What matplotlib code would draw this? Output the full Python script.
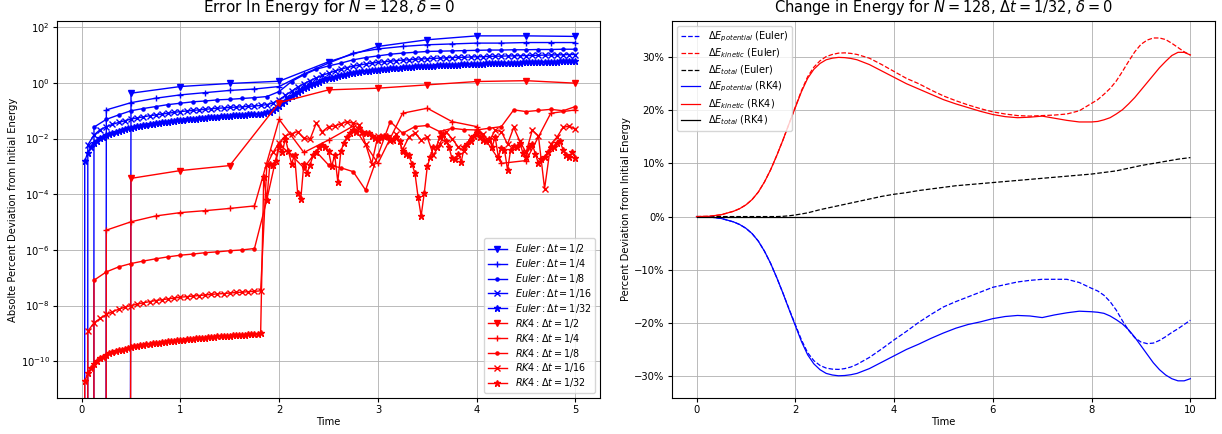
import matplotlib.pyplot as plt
import numpy as np
from matplotlib.ticker import PercentFormatter

# ---- left panel: log10 of absolute percent error, sampled at t = dt, 2dt, ... 5
# (the value at t=0 is exactly 0, which is what draws the vertical drop lines on a log axis)
euler_exp_2 = [-0.37, -0.13, -0.02, 0.06, 0.76, 1.31, 1.55, 1.69, 1.69, 1.67]
euler_exp_4 = [-0.97, -0.71, -0.55, -0.43, -0.35, -0.27, -0.22, -0.13, 0.32, 0.71,
               1.07, 1.22, 1.31, 1.37, 1.40, 1.43, 1.43, 1.45, 1.45, 1.45]
euler_exp_8 = [-1.59, -1.31, -1.15, -1.00, -0.92, -0.85, -0.78, -0.73, -0.68, -0.65,
               -0.61, -0.59, -0.56, -0.53, -0.49, -0.31, 0.05, 0.29, 0.49, 0.61,
               0.71, 0.83, 0.91, 0.97, 1.03, 1.07, 1.10, 1.13, 1.14, 1.15,
               1.16, 1.17, 1.18, 1.18, 1.19, 1.19, 1.20, 1.20, 1.21, 1.21]
euler_exp_16 = [-2.23, -1.87, -1.68, -1.58, -1.49, -1.42, -1.36, -1.30, -1.26, -1.22,
                -1.18, -1.15, -1.12, -1.09, -1.06, -1.03, -1.01, -0.99, -0.97, -0.95,
                -0.93, -0.91, -0.90, -0.88, -0.87, -0.86, -0.84, -0.83, -0.81, -0.78,
                -0.72, -0.60, -0.45, -0.30, -0.15, -0.03, 0.08, 0.18, 0.27, 0.35,
                0.42, 0.49, 0.55, 0.60, 0.64, 0.68, 0.71, 0.74, 0.76, 0.78,
                0.80, 0.82, 0.83, 0.85, 0.86, 0.87, 0.88, 0.89, 0.90, 0.91,
                0.92, 0.92, 0.93, 0.94, 0.94, 0.95, 0.96, 0.96, 0.97, 0.97,
                0.98, 0.98, 0.99, 0.99, 1.00, 1.00, 1.01, 1.01, 1.02, 1.02]
euler_exp_32 = [-2.80, -2.52, -2.30, -2.17, -2.07, -1.99, -1.93, -1.88, -1.83, -1.79,
                -1.76, -1.72, -1.69, -1.66, -1.63, -1.61, -1.58, -1.56, -1.54, -1.52,
                -1.50, -1.48, -1.46, -1.45, -1.43, -1.42, -1.40, -1.39, -1.37, -1.36,
                -1.35, -1.33, -1.32, -1.31, -1.30, -1.29, -1.28, -1.27, -1.26, -1.25,
                -1.24, -1.23, -1.22, -1.21, -1.20, -1.20, -1.19, -1.18, -1.17, -1.16,
                -1.16, -1.15, -1.14, -1.13, -1.13, -1.12, -1.11, -1.10, -1.08, -1.06,
                -1.03, -0.98, -0.91, -0.83, -0.74, -0.65, -0.56, -0.47, -0.39, -0.32,
                -0.25, -0.19, -0.13, -0.08, -0.03, 0.01, 0.05, 0.09, 0.13, 0.16,
                0.19, 0.22, 0.25, 0.27, 0.30, 0.32, 0.34, 0.36, 0.38, 0.40,
                0.41, 0.43, 0.44, 0.46, 0.47, 0.48, 0.49, 0.50, 0.51, 0.52,
                0.53, 0.54, 0.55, 0.56, 0.56, 0.57, 0.58, 0.59, 0.59, 0.60,
                0.61, 0.61, 0.62, 0.62, 0.63, 0.63, 0.64, 0.64, 0.65, 0.65,
                0.66, 0.66, 0.67, 0.67, 0.67, 0.68, 0.68, 0.69, 0.69, 0.69,
                0.70, 0.70, 0.70, 0.71, 0.71, 0.71, 0.72, 0.72, 0.72, 0.73,
                0.73, 0.73, 0.74, 0.74, 0.74, 0.74, 0.75, 0.75, 0.75, 0.75,
                0.76, 0.76, 0.76, 0.76, 0.77, 0.77, 0.77, 0.77, 0.78, 0.78]

rk4_exp_2 = [-3.43, -3.15, -2.97, -0.71, -0.25, -0.19, -0.07, 0.05, 0.08, -0.01]
rk4_exp_4 = [-5.29, -4.99, -4.78, -4.66, -4.59, -4.51, -4.42, -1.31, -2.50, -2.05,
             -1.55, -2.89, -1.09, -0.91, -1.39, -1.57, -2.89, -2.79, -1.09, -0.97]
rk4_exp_8 = [-7.09, -6.79, -6.61, -6.49, -6.40, -6.32, -6.25, -6.19, -6.15, -6.10,
             -6.07, -6.03, -6.00, -5.95, -4.20, -2.20, -2.60, -3.05, -2.47, -2.95,
             -3.05, -3.19, -3.85, -2.60, -1.39, -1.81, -1.57, -1.53, -1.75, -1.63,
             -1.68, -1.69, -1.63, -1.57, -0.97, -1.03, -0.99, -0.95, -1.00, -0.85]
rk4_exp_16 = [-8.92, -8.62, -8.46, -8.32, -8.22, -8.13, -8.06, -8.00, -7.95, -7.90,
              -7.86, -7.82, -7.79, -7.76, -7.73, -7.70, -7.68, -7.66, -7.64, -7.62,
              -7.60, -7.58, -7.57, -7.55, -7.53, -7.52, -7.50, -7.49, -7.47, -2.95,
              -2.50, -2.15, -1.90, -1.83, -1.75, -1.99, -2.03, -1.45, -1.75, -1.57,
              -1.55, -1.47, -1.39, -1.45, -1.50, -2.20, -2.90, -1.90, -1.95, -2.10,
              -1.85, -2.40, -1.95, -1.80, -2.05, -1.95, -2.60, -2.20, -1.75, -2.00,
              -2.30, -2.45, -1.95, -1.80, -1.85, -2.10, -1.70, -1.75, -2.20, -1.60,
              -2.10, -2.50, -1.70, -1.90, -3.80, -2.20, -1.95, -1.60, -1.55, -1.67]
rk4_exp_32 = [-10.72, -10.44, -10.26, -10.10, -9.98, -9.90, -9.83, -9.77, -9.72, -9.68,
              -9.64, -9.61, -9.58, -9.55, -9.52, -9.49, -9.47, -9.45, -9.43, -9.41,
              -9.39, -9.37, -9.36, -9.34, -9.33, -9.31, -9.30, -9.28, -9.27, -9.26,
              -9.25, -9.23, -9.22, -9.21, -9.20, -9.19, -9.18, -9.17, -9.16, -9.15,
              -9.14, -9.13, -9.12, -9.11, -9.10, -9.10, -9.09, -9.08, -9.07, -9.06,
              -9.06, -9.05, -9.04, -9.03, -9.03, -9.02, -9.01, -9.00, -3.37, -4.20,
              -2.90, -2.95, -2.80, -2.30, -2.50, -2.00, -2.45, -2.90, -2.60, -3.97,
              -4.18, -2.90, -3.25, -2.95, -2.60, -2.50, -2.30, -2.23, -2.30, -2.45,
              -3.00, -2.60, -3.55, -2.45, -2.15, -1.95, -1.80, -1.70, -1.75, -1.63,
              -1.75, -1.80, -1.80, -1.90, -1.99, -2.05, -1.95, -1.90, -1.90, -2.00,
              -2.05, -1.95, -2.10, -2.45, -2.55, -2.60, -2.90, -3.25, -4.09, -4.78,
              -3.97, -3.00, -2.65, -2.30, -2.29, -1.93, -1.85, -2.10, -2.29, -2.71,
              -2.75, -2.55, -2.83, -2.30, -2.20, -2.10, -1.90, -1.81, -1.95, -2.05,
              -2.10, -2.00, -2.29, -1.95, -2.65, -2.35, -2.40, -3.13, -2.40, -2.25,
              -2.30, -2.15, -2.53, -2.65, -2.30, -2.20, -2.55, -2.89, -2.75, -2.65,
              -2.50, -2.35, -2.30, -2.17, -2.10, -2.40, -2.60, -2.65, -2.50, -2.71]

step_labels = ['1/2', '1/4', '1/8', '1/16', '1/32']
step_sizes = [1/2, 1/4, 1/8, 1/16, 1/32]
markers = ['v', '+', '.', 'x', '*']
log_ticks = [1e-10, 1e-8, 1e-6, 1e-4, 1e-2, 1e0, 1e2]

# ---- right panel: percent change in energy, dt = 1/32
t_right = [0.0, 0.25, 0.5,
           0.75, 0.875, 1.0, 1.125, 1.25, 1.375, 1.5, 1.625, 1.75, 1.875, 2.0, 2.125,
           2.25, 2.375, 2.5, 2.625, 2.75, 2.875, 3.0, 3.125, 3.25,
           3.5, 3.75, 4.0, 4.25, 4.5, 4.75, 5.0, 5.25, 5.5, 5.75, 6.0, 6.25, 6.5, 6.75,
           7.0, 7.25, 7.5, 7.75,
           8.0, 8.125, 8.25, 8.375, 8.5, 8.625, 8.75, 8.875, 9.0, 9.125, 9.25, 9.375,
           9.5, 9.625, 9.75, 9.875, 10.0]
pot_euler = [0.0, -0.05, -0.35,
             -1.0, -1.5, -2.2, -3.2, -4.6, -6.5, -8.8, -11.5, -14.4, -17.4, -20.3, -23.2,
             -25.6, -27.1, -28.0, -28.5, -28.7, -28.75, -28.6, -28.3, -27.8,
             -26.5, -24.9, -23.2, -21.6, -19.9, -18.4, -17.0, -16.0, -15.1, -14.2, -13.3,
             -12.8, -12.3, -12.0, -11.8, -11.8, -11.8, -12.4,
             -13.5, -14.0, -14.8, -16.0, -17.6, -19.6, -21.4, -22.8, -23.6, -23.9, -23.8,
             -23.3, -22.6, -21.8, -21.1, -20.3, -19.5]
kin_euler = [0.0, 0.05, 0.35,
             1.0, 1.5, 2.2, 3.2, 4.6, 6.5, 8.8, 11.5, 14.4, 17.5, 20.6, 23.7,
             26.3, 28.1, 29.3, 30.1, 30.5, 30.75, 30.8, 30.7, 30.5,
             29.8, 28.6, 27.3, 26.0, 25.0, 23.8, 22.7, 21.8, 21.0, 20.3, 19.7, 19.3,
             19.0, 18.9, 19.0, 19.1, 19.3, 19.9,
             21.3, 22.0, 23.0, 24.1, 25.5, 27.3, 29.2, 31.0, 32.4, 33.2, 33.6, 33.6,
             33.3, 32.6, 31.8, 31.0, 30.4]
tot_euler = [0.0, 0.0, 0.0,
             0.0, 0.0, 0.0, 0.0, 0.0, 0.0, 0.0, 0.0, 0.05, 0.15, 0.3, 0.5,
             0.7, 1.0, 1.3, 1.55, 1.8, 2.05, 2.3, 2.55, 2.8,
             3.3, 3.8, 4.2, 4.5, 4.9, 5.2, 5.5, 5.8, 6.0, 6.2, 6.4, 6.6, 6.8, 7.0,
             7.2, 7.4, 7.6, 7.8,
             8.0, 8.15, 8.3, 8.45, 8.6, 8.85, 9.1, 9.35, 9.6, 9.8, 10.0, 10.2,
             10.4, 10.6, 10.8, 10.95, 11.1]
pot_rk4 = [0.0, -0.05, -0.35,
           -1.0, -1.5, -2.2, -3.2, -4.6, -6.5, -8.8, -11.5, -14.4, -17.5, -20.5, -23.5,
           -26.0, -27.7, -28.8, -29.5, -29.8, -29.95, -29.9, -29.75, -29.5,
           -28.6, -27.4, -26.2, -25.0, -24.0, -22.9, -21.9, -21.0, -20.3, -19.8, -19.2,
           -18.8, -18.6, -18.7, -19.0, -18.5, -18.1, -17.8,
           -17.9, -18.0, -18.2, -18.7, -19.4, -20.2, -21.3, -22.7, -24.3, -25.9, -27.5,
           -28.8, -29.8, -30.5, -30.9, -30.9, -30.5]
kin_rk4 = [0.0, 0.05, 0.35,
           1.0, 1.5, 2.2, 3.2, 4.6, 6.5, 8.8, 11.5, 14.4, 17.5, 20.5, 23.5,
           26.0, 27.7, 28.8, 29.5, 29.8, 29.95, 29.9, 29.75, 29.5,
           28.6, 27.4, 26.2, 25.0, 24.0, 23.0, 22.0, 21.2, 20.5, 19.8, 19.2, 18.8,
           18.6, 18.7, 18.9, 18.5, 18.1, 17.8,
           17.8, 17.9, 18.2, 18.6, 19.3, 20.1, 21.2, 22.4, 23.8, 25.2, 26.6, 28.0,
           29.2, 30.3, 30.9, 30.9, 30.4]
tot_rk4 = [0.0, 0.0, 0.0,
           0.0, 0.0, 0.0, 0.0, 0.0, 0.0, 0.0, 0.0, 0.0, 0.0, 0.0, 0.0,
           0.0, 0.0, 0.0, 0.0, 0.0, 0.0, 0.0, 0.0, 0.0,
           0.0, 0.0, 0.0, 0.0, 0.0, 0.0, 0.0, 0.0, 0.0, 0.0, 0.0, 0.0, 0.0, 0.0,
           0.0, 0.0, 0.0, 0.0,
           0.0, 0.0, 0.0, 0.0, 0.0, 0.0, 0.0, 0.0, 0.0, 0.0, 0.0, 0.0,
           0.0, 0.0, 0.0, 0.0, 0.0]

plt.rcParams['font.size'] = 7.2
plt.rcParams['xtick.major.size'] = 2.6
plt.rcParams['ytick.major.size'] = 2.6
plt.rcParams['xtick.major.pad'] = 2.6
plt.rcParams['ytick.major.pad'] = 2.6
plt.rcParams['axes.labelpad'] = 2.0

fig, (ax1, ax2) = plt.subplots(1, 2, figsize=(12.22, 4.34), dpi=100)
fig.subplots_adjust(left=0.0466, right=0.9943, top=0.952, bottom=0.083, wspace=0.132)

euler_sets = [euler_exp_2, euler_exp_4, euler_exp_8, euler_exp_16, euler_exp_32]
rk4_sets = [rk4_exp_2, rk4_exp_4, rk4_exp_8, rk4_exp_16, rk4_exp_32]

for method, color, sets in [('Euler', 'b', euler_sets), ('RK4', 'r', rk4_sets)]:
    for exps, dt, lab, mk in zip(sets, step_sizes, step_labels, markers):
        t = np.arange(0, 5 + dt / 2, dt)
        err = np.concatenate([[0.0], 10.0 ** np.array(exps)])
        ax1.plot(t, err, color=color, marker=mk, linewidth=1.0, markersize=4.5,
                 label=r'$%s: \Delta t = %s$' % (method, lab))

ax1.set_yscale('log')
ax1.set_yticks(log_ticks)
ax1.minorticks_off()
ax1.set_xlim(-0.25, 5.25)
ax1.set_ylim(10 ** -11.32, 10 ** 2.23)
ax1.grid(True, linewidth=0.6)
ax1.set_xlabel('Time', labelpad=1.0)
ax1.set_ylabel('Absolte Percent Deviation from Initial Energy')
ax1.set_title(r'Error In Energy for $N = 128, \delta = 0$', fontsize=11)
ax1.legend(loc='lower right', fontsize=6.9, labelspacing=0.2)

ax2.plot(t_right, pot_euler, 'b--', linewidth=0.9, label=r'$\Delta E_{potential}$ (Euler)')
ax2.plot(t_right, kin_euler, 'r--', linewidth=0.9, label=r'$\Delta E_{kinetic}$ (Euler)')
ax2.plot(t_right, tot_euler, 'k--', linewidth=0.9, label=r'$\Delta E_{total}$ (Euler)')
ax2.plot(t_right, pot_rk4, 'b-', linewidth=0.9, label=r'$\Delta E_{potential}$ (RK4)')
ax2.plot(t_right, kin_rk4, 'r-', linewidth=0.9, label=r'$\Delta E_{kinetic}$ (RK4)')
ax2.plot(t_right, tot_rk4, 'k-', linewidth=0.9, label=r'$\Delta E_{total}$ (RK4)')
ax2.yaxis.set_major_formatter(PercentFormatter(xmax=100, decimals=0))
ax2.grid(True, linewidth=0.6)
ax2.set_xlabel('Time', labelpad=1.0)
ax2.set_ylabel('Percent Deviation from Initial Energy')
ax2.set_title(r'Change in Energy for $N = 128$, $\Delta t = 1/32$, $\delta = 0$', fontsize=10.5)
ax2.legend(loc='upper left', fontsize=7.0, labelspacing=0.3)

fig.savefig('out.png')
